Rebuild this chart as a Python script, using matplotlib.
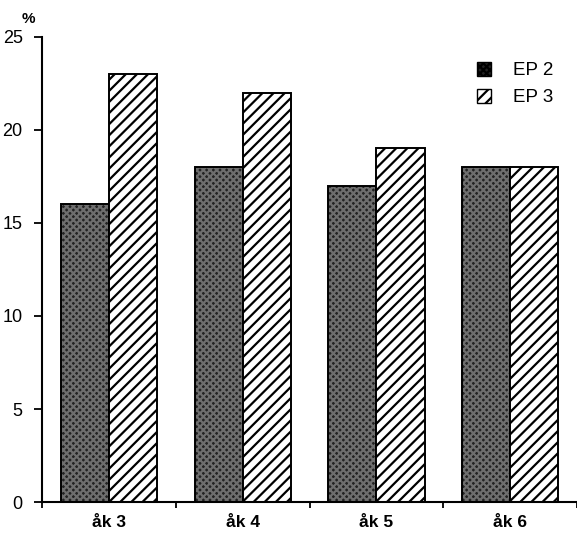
import matplotlib
matplotlib.use("Agg")
import matplotlib.pyplot as plt
from matplotlib.patches import Patch
import numpy as np

categories = ["åk 3", "åk 4", "åk 5", "åk 6"]
ep2 = [16, 18, 17, 18]
ep3 = [23, 22, 19, 18]
series_names = ["EP 2", "EP 3"]
yticks = [0, 5, 10, 15, 20, 25]

plt.rcParams['font.family'] = ['Liberation Sans', 'DejaVu Sans']
plt.rcParams['hatch.linewidth'] = 1.6

fig = plt.figure(figsize=(5.77, 5.33), dpi=100)
ax = fig.add_axes([0.073, 0.058, 0.927, 0.873])

x = np.arange(len(categories))
w = 0.36

# EP 2 : dark stipple
ax.bar(x - w/2, ep2, w, color='#222222', edgecolor='#6e6e6e', hatch='xxxxx', linewidth=0)
ax.bar(x - w/2, ep2, w, fill=False, edgecolor='black', linewidth=1.4)
# EP 3 : diagonal hatch
ax.bar(x + w/2, ep3, w, color='white', edgecolor='black', hatch='///', linewidth=0)
ax.bar(x + w/2, ep3, w, fill=False, edgecolor='black', linewidth=1.4)

ax.set_xlim(-0.5, 3.5)
ax.set_ylim(0, 25)
ax.set_yticks(yticks)
ax.set_yticklabels([str(v) for v in yticks], fontsize=13)
ax.set_xticks(x)
ax.set_xticklabels(categories, fontsize=12.5, fontweight='bold')
ax.set_xticks(np.arange(-0.5, 4.0, 1.0), minor=True)
ax.tick_params(axis='x', which='major', length=0, pad=9)
ax.tick_params(axis='x', which='minor', length=4, width=1.3, direction='out')
ax.tick_params(axis='y', length=6, width=1.3, direction='out', pad=8)
for s in ['top', 'right']:
    ax.spines[s].set_visible(False)
for s in ['left', 'bottom']:
    ax.spines[s].set_linewidth(1.5)

ax.text(-0.6, 25.6, "%", fontsize=11, fontweight='bold', ha='center', va='bottom', clip_on=False)

handles = [Patch(facecolor='#222222', edgecolor='black', hatch='xxxxx', label=series_names[0]),
           Patch(facecolor='white', edgecolor='black', hatch='///', label=series_names[1])]
leg = ax.legend(handles=handles, loc='upper right', bbox_to_anchor=(0.988, 0.982), frameon=False,
                fontsize=13.5, handlelength=0.75, handleheight=0.75, handletextpad=1.2, labelspacing=0.5)

fig.savefig("out.png", dpi=100, facecolor='white')
